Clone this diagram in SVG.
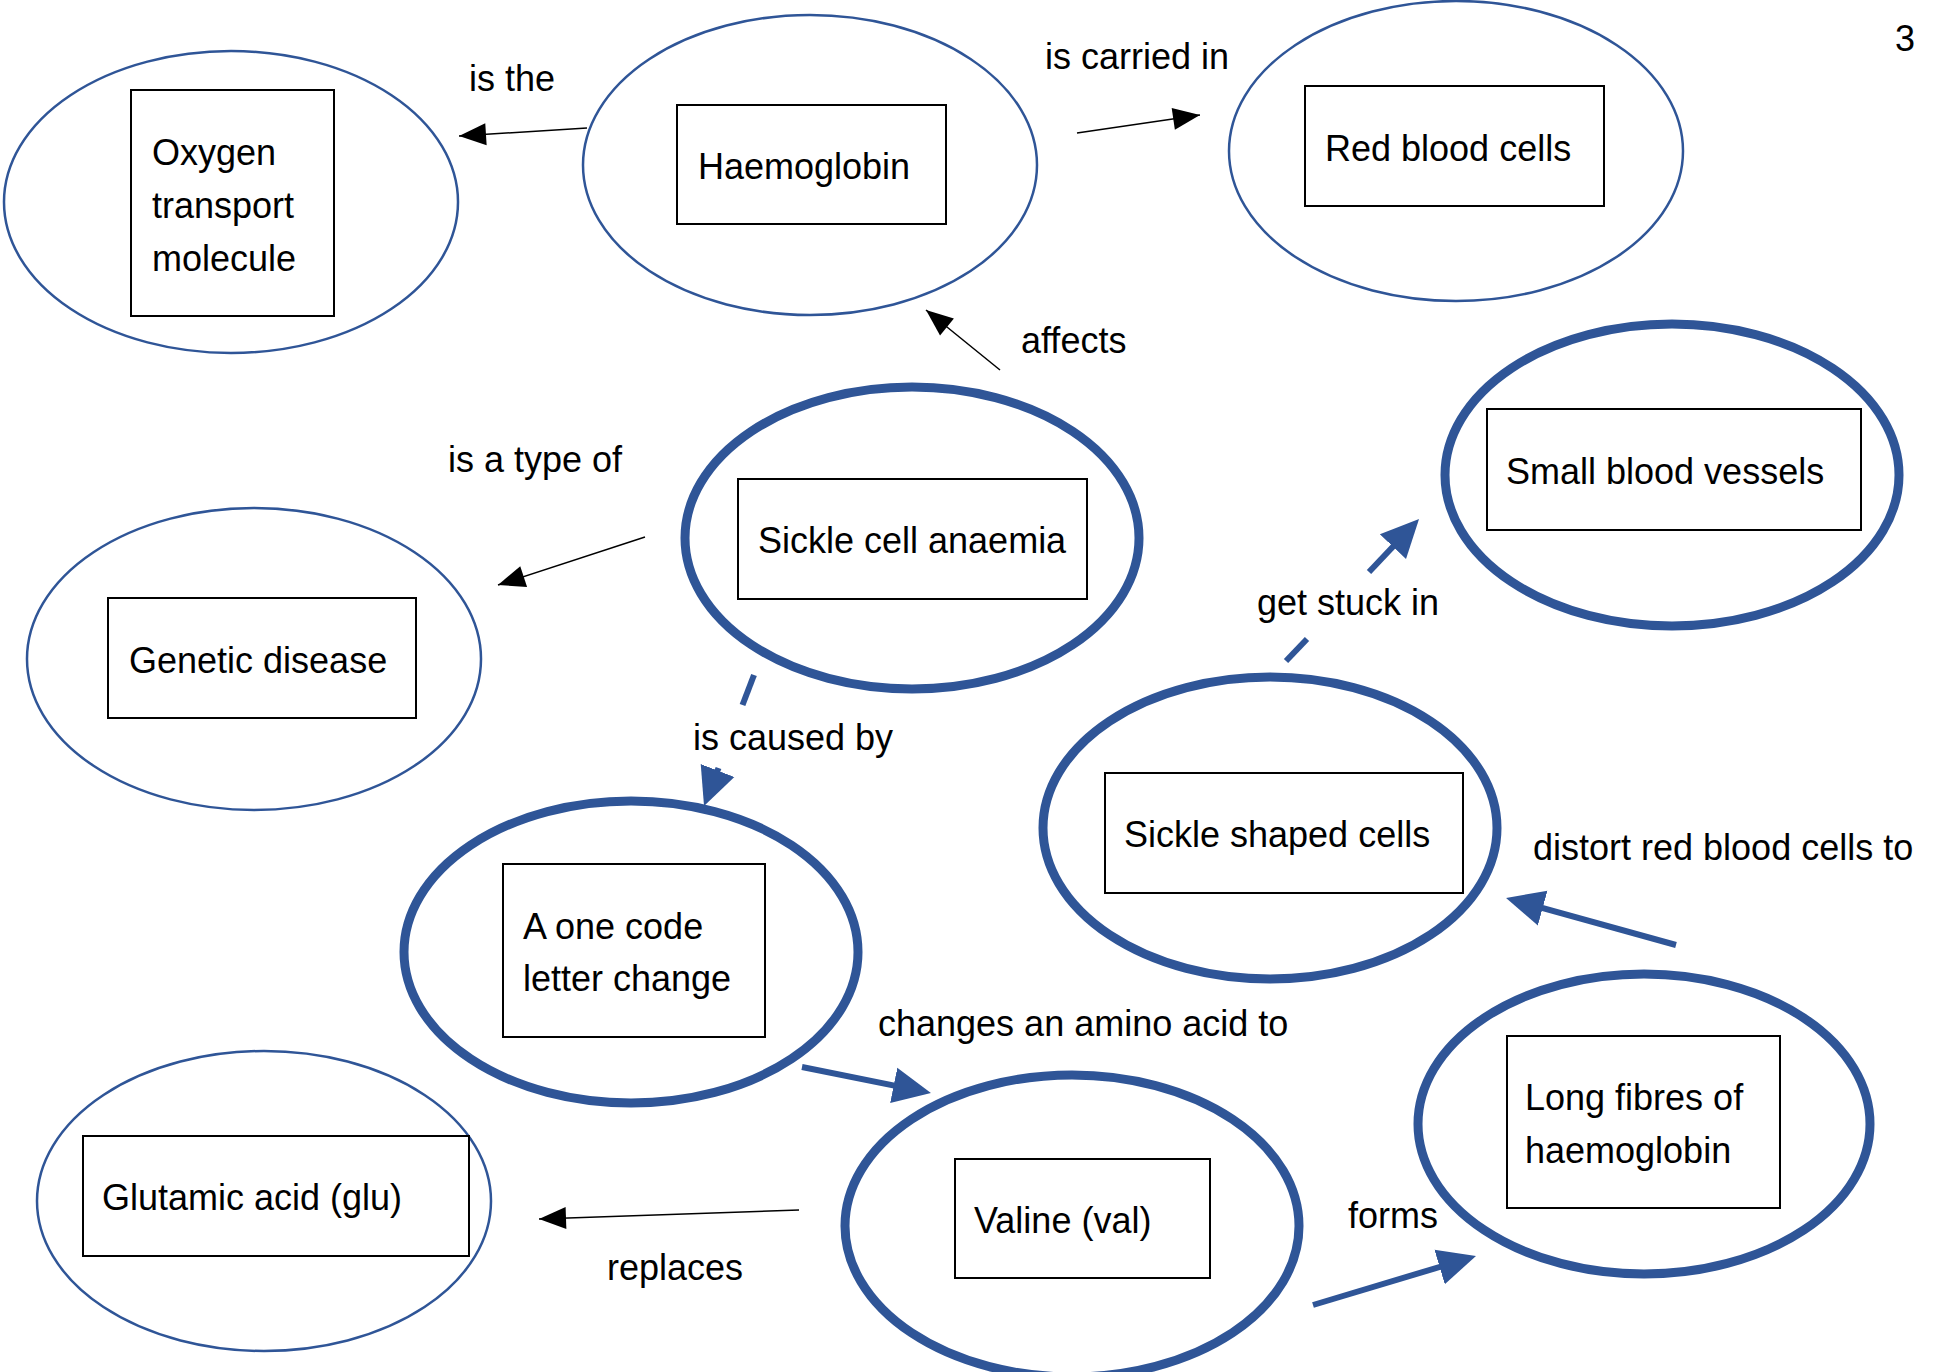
<svg xmlns="http://www.w3.org/2000/svg" width="1934" height="1372" viewBox="0 0 1934 1372">
<style>
text{font-family:"Liberation Sans",Arial,sans-serif;font-size:36px;fill:#000}
.thin{fill:#fff;stroke:#2F5597;stroke-width:2.5}
.thick{fill:#fff;stroke:#2F5597;stroke-width:9}
.box{fill:#fff;stroke:#000;stroke-width:2}
.ba{fill:none;stroke:#000;stroke-width:1.5}
.bl{fill:none;stroke:#2F5597;stroke-width:6}
</style>
<defs>
<marker id="hb" markerUnits="userSpaceOnUse" markerWidth="30" markerHeight="26" viewBox="0 -13 28 26" refX="27" refY="0" orient="auto">
<path d="M0,-11 L27,0 L0,11 z" fill="#000"/>
</marker>
<marker id="hu" markerUnits="userSpaceOnUse" markerWidth="40" markerHeight="40" viewBox="0 -20 40 40" refX="26" refY="0" orient="auto">
<path d="M0,-18 L38,0 L0,18 z" fill="#2F5597"/>
</marker>
</defs>
<rect width="1934" height="1372" fill="#fff"/>
<text x="1895" y="51">3</text>
<g id="n-oxygen">
<ellipse class="thin" cx="231" cy="202" rx="227" ry="151"/>
<rect class="box" x="131" y="90" width="203" height="226"/>
<text x="152" y="165">Oxygen</text>
<text x="152" y="218">transport</text>
<text x="152" y="271">molecule</text>
</g>
<g id="n-haemoglobin">
<ellipse class="thin" cx="810" cy="165" rx="227" ry="150"/>
<rect class="box" x="677" y="105" width="269" height="119"/>
<text x="698" y="179">Haemoglobin</text>
</g>
<g id="n-rbc">
<ellipse class="thin" cx="1456" cy="151" rx="227" ry="150"/>
<rect class="box" x="1305" y="86" width="299" height="120"/>
<text x="1325" y="161">Red blood cells</text>
</g>
<g id="n-sca">
<ellipse class="thick" cx="912" cy="538" rx="227" ry="151"/>
<rect class="box" x="738" y="479" width="349" height="120"/>
<text x="758" y="553">Sickle cell anaemia</text>
</g>
<g id="n-genetic">
<ellipse class="thin" cx="254" cy="659" rx="227" ry="151"/>
<rect class="box" x="108" y="598" width="308" height="120"/>
<text x="129" y="673">Genetic disease</text>
</g>
<g id="n-vessels">
<ellipse class="thick" cx="1672" cy="475" rx="227" ry="151"/>
<rect class="box" x="1487" y="409" width="374" height="121"/>
<text x="1506" y="484">Small blood vessels</text>
</g>
<g id="n-sickle">
<ellipse class="thick" cx="1270" cy="828" rx="227" ry="151"/>
<rect class="box" x="1105" y="773" width="358" height="120"/>
<text x="1124" y="847">Sickle shaped cells</text>
</g>
<g id="n-letter">
<ellipse class="thick" cx="631" cy="952" rx="227" ry="151"/>
<rect class="box" x="503" y="864" width="262" height="173"/>
<text x="523" y="939">A one code</text>
<text x="523" y="991">letter change</text>
</g>
<g id="n-glu">
<ellipse class="thin" cx="264" cy="1201" rx="227" ry="150"/>
<rect class="box" x="83" y="1136" width="386" height="120"/>
<text x="102" y="1210">Glutamic acid (glu)</text>
</g>
<g id="n-valine">
<ellipse class="thick" cx="1072" cy="1226" rx="227" ry="151"/>
<rect class="box" x="955" y="1159" width="255" height="119"/>
<text x="974" y="1233">Valine (val)</text>
</g>
<g id="n-fibres">
<ellipse class="thick" cx="1644" cy="1124" rx="226" ry="150"/>
<rect class="box" x="1507" y="1036" width="273" height="172"/>
<text x="1525" y="1110">Long fibres of</text>
<text x="1525" y="1163">haemoglobin</text>
</g>
<g id="connectors">
<path class="ba" d="M587,128 L459,136" marker-end="url(#hb)"/>
<path class="ba" d="M1077,133 L1200,115" marker-end="url(#hb)"/>
<path class="ba" d="M1000,370 L926,310" marker-end="url(#hb)"/>
<path class="ba" d="M645,537 L498,585" marker-end="url(#hb)"/>
<path class="ba" d="M799,1210 L539,1219" marker-end="url(#hb)"/>
<path class="bl" d="M754,675 L742.5,705"/>
<path class="bl" d="M718.5,768 L708.3,794.8" marker-end="url(#hu)"/>
<path class="bl" d="M1286,661 L1307,639"/>
<path class="bl" d="M1369,572 L1410.8,527.8" marker-end="url(#hu)"/>
<path class="bl" d="M802,1067 L919.2,1090.6" marker-end="url(#hu)"/>
<path class="bl" d="M1313,1305 L1464.5,1259.5" marker-end="url(#hu)"/>
<path class="bl" d="M1676,945 L1517.6,901.2" marker-end="url(#hu)"/>
<text x="469" y="91">is the</text>
<text x="1045" y="69">is carried in</text>
<text x="1021" y="353">affects</text>
<text x="448" y="472">is a type of</text>
<text x="693" y="750">is caused by</text>
<text x="1257" y="615">get stuck in</text>
<text x="1533" y="860">distort red blood cells to</text>
<text x="878" y="1036">changes an amino acid to</text>
<text x="1348" y="1228">forms</text>
<text x="607" y="1280">replaces</text>
</g>
</svg>
